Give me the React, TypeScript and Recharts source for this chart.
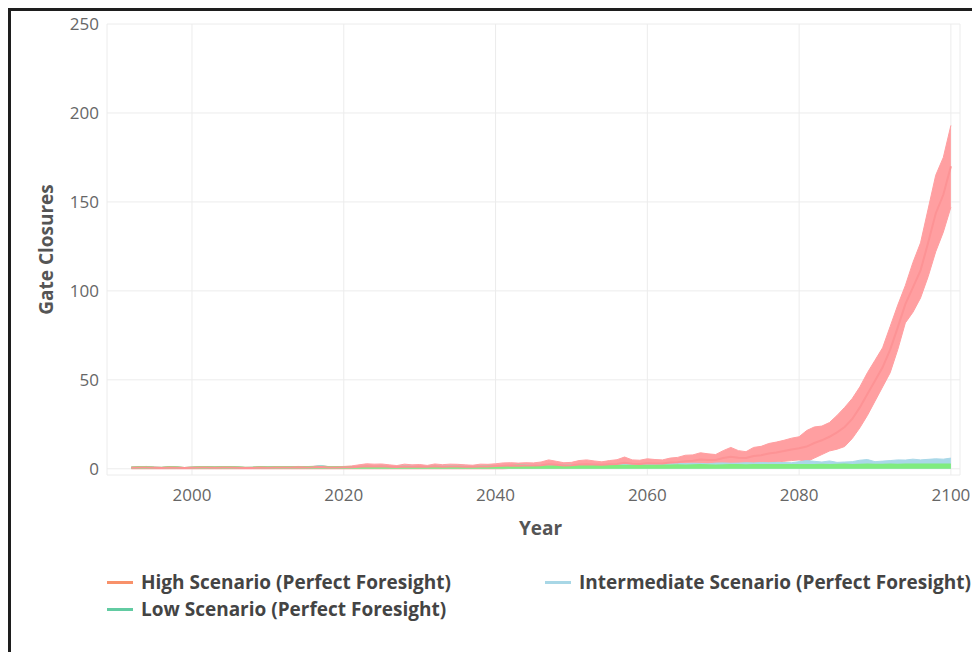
import { ComposedChart, Area, Line, XAxis, YAxis, CartesianGrid } from 'recharts';

// yearly values, 1992 .. 2100
const FIRST_YEAR = 1992;

const highUpper = [
  1, 1.2, 1.3, 1, 0.8, 1.2, 1.1, 0.7, 1, 1.2,
  1.2, 1.1, 1.2, 1.2, 1.1, 0.8, 0.9, 1.2, 1.1, 1.2,
  1.2, 1.2, 1.3, 1.2, 1.4, 1.8, 1.2, 1.2, 1.3, 1.6,
  2.2, 2.8, 2.6, 2.7, 2.2, 1.8, 2.6, 2.2, 2.4, 1.9,
  2.7, 2.3, 2.6, 2.5, 2.2, 2.0, 2.6, 2.5, 2.8, 3.3,
  3.4, 3.2, 3.4, 3.3, 3.8, 5.0, 4.2, 3.4, 3.6, 4.6,
  5.0, 4.4, 3.9, 4.6, 5.1, 6.6, 5.0, 4.8, 5.6, 5.2,
  5.0, 6.0, 6.4, 7.6, 7.8, 9.0, 8.4, 8.0, 10.2, 12.0,
  10.2, 9.6, 12.0, 12.6, 14.2, 15.0, 16.0, 17.2, 18.0, 21.5,
  23.5, 24.0, 26.0, 30.0, 34.5, 39.5, 46.0, 54.0, 61.0, 68.0,
  80.0, 92.0, 103.0, 116.0, 127.0, 146.0, 165.0, 175.0, 193.0,
];

const highLower = [
  0, 0, 0, 0, 0, 0, 0, 0, 0, 0,
  0, 0, 0, 0, 0, 0, 0, 0, 0, 0,
  0, 0, 0, 0, 0, 0, 0, 0, 0, 0,
  0, 0, 0, 0, 0, 0, 0, 0, 0, 0,
  0, 0, 0, 0, 0, 0, 0, 0, 0, 0,
  0.2, 0.2, 0.2, 0.2, 0.3, 0.3, 0.3, 0.3, 0.4, 0.4,
  0.5, 0.5, 0.5, 0.6, 0.6, 0.8, 0.8, 0.8, 1.0, 1.0,
  1.0, 1.2, 1.2, 1.4, 1.5, 1.6, 1.8, 2.0, 2.0, 2.2,
  2.4, 2.6, 2.8, 3.0, 3.4, 3.8, 4.2, 4.6, 5.0, 4.0,
  6.0, 8.0, 10.0, 11.0, 12.5, 17.0, 23.0, 30.0, 38.0, 46.0,
  54.0, 67.0, 82.0, 88.0, 96.0, 108.0, 122.0, 133.0, 147.0,
];

const highMid = [
  0.6, 0.7, 0.7, 0.6, 0.5, 0.7, 0.6, 0.4, 0.6, 0.7,
  0.7, 0.6, 0.7, 0.7, 0.6, 0.5, 0.5, 0.7, 0.6, 0.7,
  0.7, 0.7, 0.8, 0.7, 0.8, 1.0, 0.7, 0.7, 0.8, 0.9,
  1.2, 1.4, 1.3, 1.4, 1.2, 1.0, 1.3, 1.2, 1.3, 1.1,
  1.4, 1.2, 1.3, 1.3, 1.2, 1.1, 1.3, 1.3, 1.5, 1.7,
  1.8, 1.7, 1.8, 1.8, 2.0, 2.5, 2.2, 1.9, 2.0, 2.4,
  2.6, 2.4, 2.2, 2.5, 2.7, 3.4, 2.8, 2.7, 3.1, 3.0,
  3.0, 3.5, 3.7, 4.3, 4.5, 5.2, 5.0, 5.0, 6.0, 6.8,
  6.2, 6.1, 7.2, 7.6, 8.6, 9.2, 10.0, 10.8, 11.5, 12.5,
  14.5, 16.0, 18.0, 20.5, 23.5, 28.0, 34.5, 42.0, 49.5, 57.0,
  67.0, 79.5, 92.5, 102.0, 111.5, 127.0, 143.5, 154.0, 170.0,
];

const intermediateUpper = [
  0.9, 1.1, 1.2, 0.9, 0.7, 1.1, 1.0, 0.6, 0.9, 1.1,
  1.1, 1.0, 1.1, 1.1, 1.0, 0.7, 0.8, 1.1, 1.0, 1.1,
  1.1, 1.1, 1.2, 1.1, 1.3, 1.9, 1.1, 1.1, 1.2, 1.3,
  1.3, 1.4, 1.3, 1.5, 1.2, 1.2, 1.6, 1.4, 1.3, 1.3,
  1.5, 1.4, 1.6, 1.5, 1.4, 1.3, 1.5, 1.6, 1.8, 1.9,
  1.8, 2.0, 2.2, 1.9, 2.0, 2.3, 2.2, 2.0, 2.2, 2.4,
  2.3, 2.5, 2.2, 2.4, 2.6, 2.5, 2.3, 2.6, 2.7, 2.6,
  2.8, 2.7, 3.0, 2.9, 3.1, 3.0, 2.8, 3.2, 3.3, 3.1,
  3.2, 3.4, 3.3, 3.5, 3.4, 3.6, 3.5, 3.4, 4.0, 4.6,
  4.2, 3.8, 4.4, 3.6, 3.8, 4.0, 4.8, 5.2, 4.0, 4.3,
  4.6, 5.0, 4.9, 5.4, 5.0, 5.3, 5.6, 5.4, 6.0,
];

const lowUpper = [
  0.9, 1.1, 1.2, 0.9, 0.7, 1.1, 1.0, 0.6, 0.9, 1.1,
  1.1, 1.0, 1.1, 1.1, 1.0, 0.7, 0.8, 1.1, 1.0, 1.1,
  1.1, 1.1, 1.2, 1.1, 1.2, 1.3, 1.1, 1.1, 1.2, 1.2,
  1.2, 1.3, 1.2, 1.3, 1.2, 1.1, 1.3, 1.2, 1.2, 1.2,
  1.3, 1.2, 1.3, 1.3, 1.2, 1.2, 1.3, 1.4, 1.5, 1.6,
  1.7, 2.0, 1.8, 1.6, 1.7, 1.6, 1.7, 1.8, 1.8, 1.7,
  1.8, 1.9, 1.8, 1.8, 1.9, 1.8, 1.9, 2.0, 1.9, 1.9,
  2.0, 2.0, 2.1, 2.0, 2.1, 2.2, 2.1, 2.0, 2.1, 2.2,
  2.2, 2.1, 2.2, 2.3, 2.2, 2.2, 2.3, 2.2, 2.3, 2.3,
  2.3, 2.4, 2.3, 2.4, 2.5, 2.3, 2.4, 2.5, 2.4, 2.4,
  2.5, 2.4, 2.5, 2.5, 2.6, 2.5, 2.6, 2.5, 2.6,
];

const xTicks = [2000, 2020, 2040, 2060, 2080, 2100];
const yTicks = [0, 50, 100, 150, 200, 250];

const legendItems = [
  { name: 'High Scenario (Perfect Foresight)', color: '#f8916a', left: 107, top: 582 },
  { name: 'Intermediate Scenario (Perfect Foresight)', color: '#a8d7e6', left: 545, top: 582 },
  { name: 'Low Scenario (Perfect Foresight)', color: '#62cba2', left: 107, top: 609 },
];

const FONT = '"Open Sans", "DejaVu Sans", sans-serif';

const rows = highUpper.map((_, i) => ({
  year: FIRST_YEAR + i,
  high: [highLower[i], highUpper[i]],
  highMid: highMid[i],
  intermediate: intermediateUpper[i],
  low: lowUpper[i],
}));

function YTitle(props: any) {
  const { viewBox } = props;
  const cy = viewBox.y + viewBox.height / 2;
  return (
    <text
      x={46}
      y={cy}
      transform={`rotate(-90, 46, ${cy})`}
      textAnchor="middle"
      dominantBaseline="central"
      fontFamily={FONT}
      fontWeight={700}
      fontSize={19}
      fill="#555"
    >
      Gate Closures
    </text>
  );
}

function XTitle(props: any) {
  const { viewBox } = props;
  const cx = viewBox.x + viewBox.width / 2 + 7;
  return (
    <text
      x={cx}
      y={528}
      textAnchor="middle"
      dominantBaseline="central"
      fontFamily={FONT}
      fontWeight={700}
      fontSize={19}
      fill="#555"
    >
      Year
    </text>
  );
}

export default function App() {
  const tickStyle = { fontSize: 17, fill: '#666', fontFamily: FONT };

  return (
    <div style={{ position: 'fixed', left: 0, top: 0, width: 972, height: 652, background: '#fff', overflow: 'hidden' }}>
      <div
        style={{
          position: 'absolute',
          left: 8,
          top: 8,
          right: -10,
          bottom: -10,
          borderLeft: '3px solid #1e1e1e',
          borderTop: '3px solid #1e1e1e',
        }}
      />
      <div style={{ position: 'absolute', left: 0, top: 0 }}>
        <ComposedChart
          width={972}
          height={652}
          data={rows}
          margin={{ top: 24, right: 12, bottom: 147, left: 0 }}
        >
          <CartesianGrid stroke="#ececec" strokeWidth={1} />
          <XAxis
            dataKey="year"
            type="number"
            domain={[1988.8, 2101.2]}
            ticks={xTicks}
            allowDataOverflow
            axisLine={false}
            tickLine={false}
            tickSize={0}
            tickMargin={14}
            height={30}
            tick={tickStyle}
            label={<XTitle />}
          />
          <YAxis
            type="number"
            domain={[-3.5, 250]}
            ticks={yTicks}
            allowDataOverflow
            axisLine={false}
            tickLine={false}
            tickSize={0}
            tickMargin={8}
            width={107}
            tick={tickStyle}
            label={<YTitle />}
          />
          <Area
            dataKey="high"
            type="linear"
            fill="#ff9fa1"
            fillOpacity={1}
            stroke="#ff9fa1"
            strokeWidth={1}
            isAnimationActive={false}
            dot={false}
            activeDot={false}
          />
          <Line
            dataKey="highMid"
            type="linear"
            stroke="#fd9395"
            strokeWidth={2}
            dot={false}
            activeDot={false}
            isAnimationActive={false}
          />
          <Area
            dataKey="intermediate"
            type="linear"
            fill="#a9d8e8"
            fillOpacity={1}
            stroke="#a9d8e8"
            strokeWidth={1}
            isAnimationActive={false}
            dot={false}
            activeDot={false}
          />
          <Area
            dataKey="low"
            type="linear"
            fill="#7fec7f"
            fillOpacity={1}
            stroke="#7fec7f"
            strokeWidth={1.5}
            isAnimationActive={false}
            dot={false}
            activeDot={false}
          />
        </ComposedChart>
      </div>
      {legendItems.map((item) => (
        <div
          key={item.name}
          style={{
            position: 'absolute',
            left: item.left,
            top: item.top - 12,
            height: 24,
            display: 'flex',
            alignItems: 'center',
            whiteSpace: 'nowrap',
            fontFamily: FONT,
            fontWeight: 700,
            fontSize: 19,
            color: '#444',
          }}
        >
          <span style={{ display: 'inline-block', width: 26, height: 3, background: item.color, marginRight: 8 }} />
          <span>{item.name}</span>
        </div>
      ))}
    </div>
  );
}
